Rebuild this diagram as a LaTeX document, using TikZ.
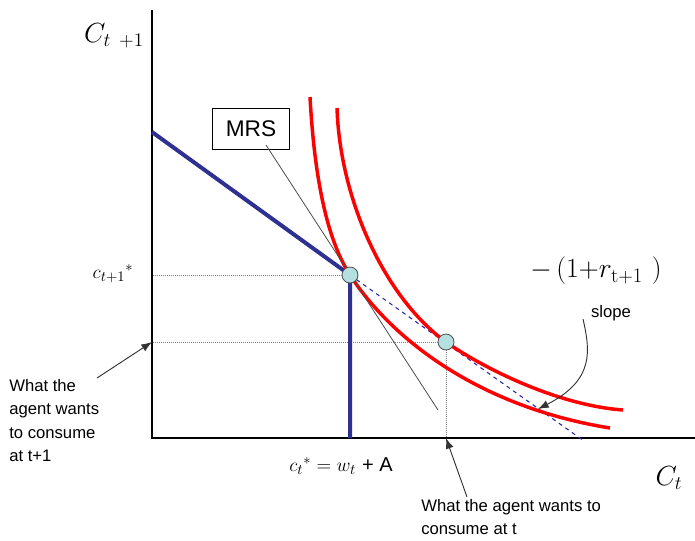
\documentclass[tikz,border=0pt]{standalone}
\usepackage{fontspec}
\setsansfont{Liberation Sans}
\usetikzlibrary{arrows.meta,calc}
\definecolor{cbudget}{HTML}{2E3192}
\definecolor{cindiff}{HTML}{FF0000}
\definecolor{cpoint}{HTML}{B4E0E0}

\begin{document}
\begin{tikzpicture}[x=0.75pt,y=-0.75pt,>=Latex,
  lbl/.style={font=\sffamily\fontsize{12.5}{17.5}\selectfont,inner sep=0pt,align=left},
  axlbl/.style={font=\fontsize{22}{24}\selectfont,inner sep=0pt},
  guide/.style={densely dotted,gray,line width=0.5pt},
  budget/.style={cbudget,line width=3pt},
  indiff/.style={cindiff,line width=2.6pt},
  eq/.style={circle,draw=black!70,fill=cpoint,line width=0.6pt,minimum size=12pt,inner sep=0pt},
  note/.style={-{Latex[length=8pt,width=6pt]},black!80,line width=0.7pt}]
\useasboundingbox (0,0) rectangle (695,540);
% axes
\coordinate (O) at (152,438);
\draw[line width=1.1pt] (152,10) -- (O) -- (695,438);
\node[axlbl] (cy) at (114,36) {$C_{t\ +1}$};
\node[axlbl] (cx) at (669,478) {$C_t$};
% equilibrium points
\coordinate (e1) at (350,275);
\coordinate (e2) at (446,342);
% guides
\draw[guide] (e1) -- (e1 -| O);
\draw[guide] (e2) -- (e2 -| O);
\draw[guide] (e2) -- (e2 |- O);
% budget constraint
\draw[budget] (152,132) -- (e1) -- (e1 |- O);
\draw[cbudget!80!blue,dashed,line width=0.8pt] (e1) -- (584,441);
% indifference curves
\draw[indiff] (310,97) .. controls (314,170) and (325,236.5) .. (e1)
  .. controls (395,344) and (485,408) .. (610,428);
\draw[indiff] (337,108) .. controls (340,200) and (385,298) .. (e2)
  .. controls (480,366) and (555,405) .. (623,410);
% MRS
\node[draw,line width=0.7pt,font=\sffamily\fontsize{17}{20}\selectfont,minimum width=58pt,minimum height=31pt,inner sep=2pt]
  (mrs) at (251,129) {MRS};
\coordinate (mrsend) at (438,410);
\draw[black!70,line width=0.6pt] (266,145) -- (mrsend);
\node[eq] (E1) at (e1) {};
\node[eq] (E2) at (e2) {};
% labels
\node[font=\fontsize{15}{17}\selectfont] (cyst) at (113,274) {$c_{t+1}{}^{*}$};
\node[font=\fontsize{15}{17}\selectfont] (cxst) at (341,466) {$c_t{}^{*} = w_t$ \textsf{+ A}};
\node[axlbl] (slopeval) at (596,271) {$-\,(1{+}r_{\mathrm{t+1}}\ )$};
\node[lbl] (slope) at (611,313) {slope};
\node[lbl,anchor=north west] (wantnext) at (9,379) {What the\\agent wants\\to consume\\at t+1};
\node[lbl,anchor=north west] (wantnow) at (421,499) {What the agent wants to\\consume at t};
% arrows
\coordinate (slopetip) at (538,409);
\draw[note] (583,319) .. controls (590,350) and (595,380) .. (slopetip);
\draw[note] (97,378) -- (E2 -| O);
\draw[note] (467,497) -- (E2 |- O);
\end{tikzpicture}
\end{document}
